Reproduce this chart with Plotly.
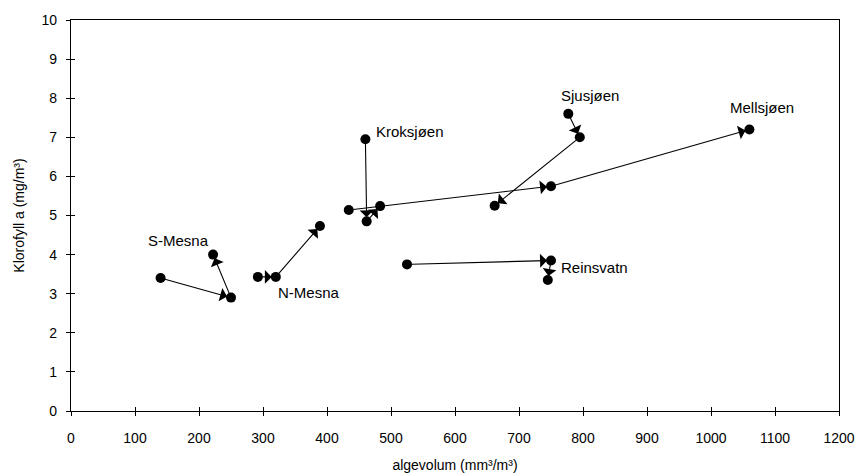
import plotly.graph_objects as go

# ---- data ----
lakes = ["S-Mesna", "N-Mesna", "Kroksjøen", "Mellsjøen", "Sjusjøen", "Reinsvatn"]
smesna_x = [140, 250, 222]
smesna_y = [3.4, 2.9, 4.0]
nmesna_x = [292, 320, 389]
nmesna_y = [3.43, 3.43, 4.73]
kroks_x = [460, 462, 483]
kroks_y = [6.95, 4.85, 5.24]
mells_x = [434, 750, 1060]
mells_y = [5.14, 5.75, 7.2]
sjus_x = [777, 795, 662]
sjus_y = [7.6, 7.0, 5.25]
reins_x = [525, 750, 745]
reins_y = [3.75, 3.85, 3.35]

x_ticks = list(range(0, 1201, 100))
y_ticks = list(range(0, 11))

series = [
    (smesna_x, smesna_y),
    (nmesna_x, nmesna_y),
    (kroks_x, kroks_y),
    (mells_x, mells_y),
    (sjus_x, sjus_y),
    (reins_x, reins_y),
]

# label placement (layout only)
label_pos = {
    "S-Mesna": dict(x=168, y=4.35, xanchor="center"),
    "N-Mesna": dict(x=372, y=3.04, xanchor="center"),
    "Kroksjøen": dict(x=474, y=7.14, xanchor="left"),
    "Mellsjøen": dict(x=1079, y=7.77, xanchor="center"),
    "Sjusjøen": dict(x=811, y=8.08, xanchor="center"),
    "Reinsvatn": dict(x=762, y=3.66, xanchor="left"),
}

FONT = "Liberation Sans, Arial, sans-serif"

fig = go.Figure()
annotations = []
for name, (xs, ys) in zip(lakes, series):
    fig.add_trace(go.Scatter(x=xs, y=ys, mode="markers",
                             marker=dict(color="black", size=10),
                             showlegend=False, hoverinfo="skip"))
    for i in range(len(xs) - 1):
        annotations.append(dict(
            x=xs[i + 1], y=ys[i + 1], ax=xs[i], ay=ys[i],
            xref="x", yref="y", axref="x", ayref="y",
            showarrow=True, arrowhead=1, arrowsize=2.1, arrowwidth=1.1,
            arrowcolor="black", standoff=4, startstandoff=3, text=""))
    lp = label_pos[name]
    annotations.append(dict(x=lp["x"], y=lp["y"], xref="x", yref="y",
                            text=name, showarrow=False, xanchor=lp["xanchor"],
                            yanchor="middle",
                            font=dict(family=FONT, size=15, color="black")))

# invisible trace for the overlay axes (crossing tick marks)
fig.add_trace(go.Scatter(x=[0], y=[0], xaxis="x2", yaxis="y2", mode="markers",
                         marker=dict(opacity=0), showlegend=False, hoverinfo="skip"))

axis_common = dict(showgrid=False, zeroline=False, showline=True, linecolor="black",
                   linewidth=1.3, ticks="outside", ticklen=4, tickcolor="black",
                   automargin=False,
                   tickfont=dict(family=FONT, size=14, color="black"))

fig.update_layout(
    width=858, height=476,
    margin=dict(l=71, r=19, t=20, b=65),
    paper_bgcolor="white", plot_bgcolor="white",
    xaxis=dict(range=[0, 1200], tickvals=x_ticks, mirror=True,
               ticklabelstandoff=10,
               title=dict(text="algevolum (mm³/m³)", standoff=15,
                          font=dict(family=FONT, size=14, color="black")),
               **axis_common),
    yaxis=dict(range=[0, 10], tickvals=y_ticks, mirror=True,
               ticklabelstandoff=6,
               title=dict(text="Klorofyll a (mg/m³)", standoff=13,
                          font=dict(family=FONT, size=14, color="black")),
               **axis_common),
    xaxis2=dict(range=[0, 1200], tickvals=x_ticks, overlaying="x", anchor="y2",
                showticklabels=False, showgrid=False, zeroline=False,
                showline=False, ticks="inside", ticklen=4, tickcolor="black"),
    yaxis2=dict(range=[0, 10], tickvals=y_ticks, overlaying="y", anchor="x2",
                showticklabels=False, showgrid=False, zeroline=False,
                showline=False, ticks="inside", ticklen=4, tickcolor="black"),
    annotations=annotations,
)

fig.write_html("out.html")
